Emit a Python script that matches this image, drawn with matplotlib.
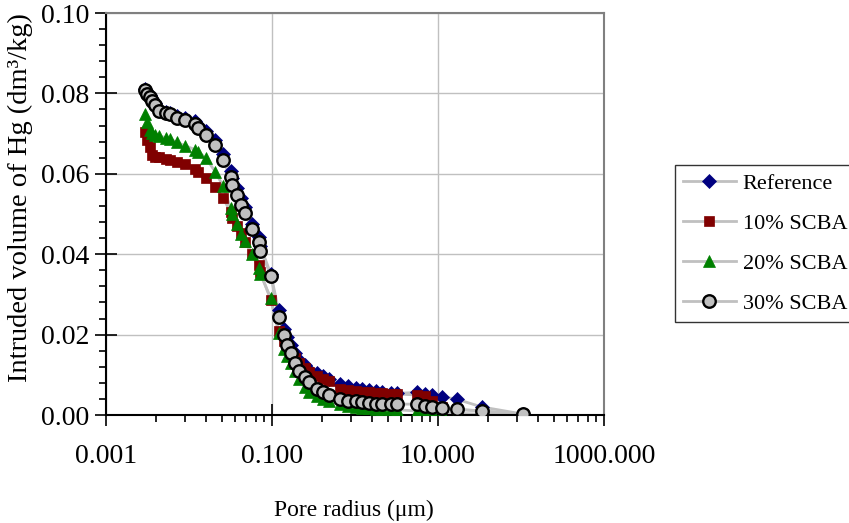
import matplotlib
matplotlib.use('Agg')
import matplotlib.pyplot as plt
from matplotlib.ticker import FixedLocator, NullFormatter

plt.rcParams['font.family'] = ['Liberation Serif', 'DejaVu Serif']

# pore radius (um), same pressure steps for every mix
pore_radius = [0.00292, 0.00313, 0.00337, 0.00359, 0.00393, 0.00436, 0.00525, 0.00587,
               0.00726, 0.00888, 0.0119, 0.0128, 0.0159, 0.0207, 0.0256, 0.0317,
               0.0332, 0.0377, 0.0421, 0.0475, 0.0577, 0.0692, 0.0726, 0.0970,
               0.120, 0.141, 0.152, 0.169, 0.189, 0.213, 0.248, 0.281,
               0.346, 0.408, 0.480, 0.663, 0.827, 1.017, 1.217, 1.464,
               1.767, 2.115, 2.750, 3.228, 5.52, 6.95, 8.50, 11.2,
               16.9, 33.8, 107.0]

# intruded volume of Hg (dm3/kg)
vol_ref = [0.0812, 0.0802, 0.0795, 0.0786, 0.0775, 0.0760, 0.0754, 0.0752,
           0.0745, 0.0740, 0.0732, 0.0722, 0.0707, 0.0683, 0.0650, 0.0608,
           0.0590, 0.0565, 0.0540, 0.0518, 0.0475, 0.0443, 0.0420, 0.0350,
           0.0260, 0.0215, 0.0195, 0.0175, 0.0155, 0.0138, 0.0125, 0.0112,
           0.0105, 0.0097, 0.0090, 0.0078, 0.0072, 0.0067, 0.0064, 0.0061,
           0.0059, 0.0057, 0.0055, 0.0054, 0.0056, 0.0053, 0.0050, 0.0046,
           0.0039, 0.0020, 0.0002]
vol_10 = [0.0703, 0.0683, 0.0666, 0.0648, 0.0643, 0.0641, 0.0638, 0.0635,
          0.0630, 0.0624, 0.0612, 0.0604, 0.0590, 0.0568, 0.0540, 0.0505,
          0.0490, 0.0470, 0.0452, 0.0430, 0.0400, 0.0372, 0.0355, 0.0285,
          0.0210, 0.0185, 0.0170, 0.0155, 0.0142, 0.0130, 0.0118, 0.0108,
          0.0097, 0.0090, 0.0085, 0.0064, 0.0061, 0.0059, 0.0058, 0.0056,
          0.0055, 0.0054, 0.0053, 0.0052, 0.0050, 0.0047, 0.0034, 0.0020,
          0.0014, 0.0010, 0.0002]
vol_20 = [0.0750, 0.0728, 0.0710, 0.0702, 0.0697, 0.0694, 0.0690, 0.0686,
          0.0678, 0.0670, 0.0660, 0.0655, 0.0640, 0.0605, 0.0570, 0.0515,
          0.0500, 0.0475, 0.0450, 0.0432, 0.0400, 0.0365, 0.0350, 0.0290,
          0.0205, 0.0165, 0.0148, 0.0130, 0.0110, 0.0090, 0.0070, 0.0058,
          0.0048, 0.0040, 0.0034, 0.0027, 0.0023, 0.0020, 0.0018, 0.0017,
          0.0016, 0.0015, 0.0014, 0.0013, 0.0010, 0.0009, 0.0008, 0.0006,
          0.0004, 0.0002, 0.0000]
vol_30 = [0.0809, 0.0798, 0.0792, 0.0782, 0.0772, 0.0757, 0.0751, 0.0749,
          0.0739, 0.0734, 0.0724, 0.0714, 0.0697, 0.0672, 0.0634, 0.0591,
          0.0572, 0.0548, 0.0523, 0.0503, 0.0462, 0.0430, 0.0409, 0.0347,
          0.0244, 0.0199, 0.0174, 0.0155, 0.0130, 0.0110, 0.0095, 0.0081,
          0.0065, 0.0057, 0.0050, 0.0040, 0.0036, 0.0034, 0.0033, 0.0030,
          0.0027, 0.0027, 0.0027, 0.0027, 0.0027, 0.0022, 0.0021, 0.0017,
          0.0014, 0.0010, 0.0002]

series_labels = ['Reference', '10% SCBA', '20% SCBA', '30% SCBA']
x_major = [0.001, 0.1, 10, 1000]
x_major_labels = ['0.001', '0.100', '10.000', '1000.000']

fig = plt.figure(figsize=(8.49, 5.23), dpi=100)
ax = fig.add_axes([0.1249, 0.2065, 0.5865, 0.7686])

styles = [
    dict(marker='D', ms=7, mfc='#000080', mec='#000080', mew=0.5),
    dict(marker='s', ms=7.5, mfc='#800000', mec='#800000', mew=0.5),
    dict(marker='^', ms=9, mfc='#008000', mec='#008000', mew=0.5),
    dict(marker='o', ms=9, mfc='#c0c0c0', mec='black', mew=1.7),
]
all_vols = [vol_ref, vol_10, vol_20, vol_30]

# lines underneath, markers on top in series order
for vols in all_vols:
    ax.plot(pore_radius, vols, color='#c0c0c0', lw=2, zorder=2)
handles = []
for i, vols in enumerate(all_vols):
    ax.plot(pore_radius, vols, ls='none', zorder=3 + i, **styles[i])
    h, = ax.plot([], [], color='#c0c0c0', lw=2, label=series_labels[i], **styles[i])
    handles.append(h)

ax.set_xscale('log')
ax.set_xlim(0.001, 1000)
ax.set_ylim(0, 0.1)

ax.xaxis.set_major_locator(FixedLocator(x_major))
ax.set_xticklabels(x_major_labels)
minor = [b * k * k for b in (0.001, 0.1, 10) for k in range(2, 10)]
ax.xaxis.set_minor_locator(FixedLocator(minor))
ax.xaxis.set_minor_formatter(NullFormatter())

ax.set_yticks([0, 0.02, 0.04, 0.06, 0.08, 0.10])
ax.set_yticklabels(['0.00', '0.02', '0.04', '0.06', '0.08', '0.10'])
ax.set_yticks([i * 0.004 for i in range(26)], minor=True)

ax.tick_params(axis='x', which='major', direction='inout', length=16, width=1.2,
               labelsize=20, pad=13)
ax.tick_params(axis='x', which='minor', direction='out', length=5, width=1.2)
ax.tick_params(axis='y', which='major', direction='inout', length=16, width=1.2,
               labelsize=20, pad=4)
ax.tick_params(axis='y', which='minor', direction='out', length=5, width=1.2)

ax.grid(True, which='major', color='#c0c0c0', lw=1)
ax.set_axisbelow(True)

for side in ['left', 'bottom']:
    ax.spines[side].set_color('black')
    ax.spines[side].set_linewidth(1.5)
for side in ['top', 'right']:
    ax.spines[side].set_color('#808080')
    ax.spines[side].set_linewidth(1.5)

ax.set_xlabel('Pore radius (\u03bcm)', fontsize=17)
ax.xaxis.set_label_coords(0.497, -0.21)
ax.set_ylabel('Intruded volume of Hg (dm\u00b3/kg)', fontsize=20.5)
ax.yaxis.set_label_coords(-0.147, 0.541)

leg = fig.legend(handles=handles, loc='upper left', bbox_to_anchor=(0.795, 0.684),
                 fontsize=16, frameon=True, fancybox=False, edgecolor='black',
                 handlelength=2.4, handletextpad=0.3, labelspacing=0.88,
                 borderpad=0.35, borderaxespad=0)
leg.get_frame().set_linewidth(1.0)

fig.savefig('out.png', dpi=100)
